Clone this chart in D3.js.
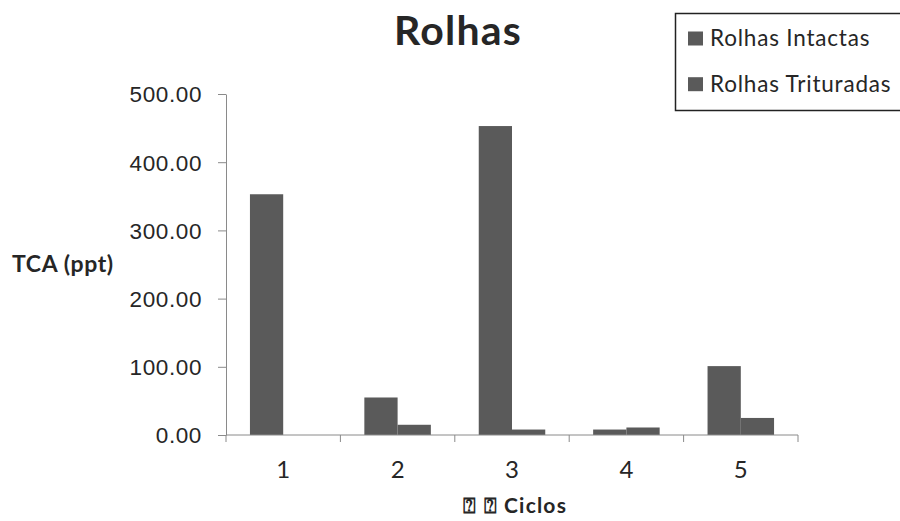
<!DOCTYPE html>
<html>
<head>
<meta charset="utf-8">
<script src="https://cdn.jsdelivr.net/npm/d3@7"></script>
<style>
  html, body { margin: 0; padding: 0; background: #fff; }
  svg { display: block; font-family: Lato, "Open Sans", sans-serif; }
</style>
</head>
<body>
<svg id="chart" width="900" height="521"></svg>
<script>
// TCA measured per cycle for intact and crushed corks
const ciclos = ["1", "2", "3", "4", "5"];
const seriesNames = ["Rolhas Intactas", "Rolhas Trituradas"];
const intactas = [353, 55, 453, 8, 101];
const trituradas = [0, 15, 8, 11, 25];
const yTicks = [0, 100, 200, 300, 400, 500];

const svg = d3.select("#chart");
const margin = { left: 226, right: 102, top: 94, bottom: 86 };
const W = 900, H = 521;

const x = d3.scaleBand().domain(ciclos).range([margin.left, W - margin.right]).paddingInner(0).paddingOuter(0);
const y = d3.scaleLinear().domain([0, 500]).range([H - margin.bottom, margin.top]);
const xs = d3.scaleBand().domain(seriesNames).range([0, x.bandwidth()]).paddingInner(0).paddingOuter(0.72);

const rows = ciclos.map((c, i) => ({ c, vals: [intactas[i], trituradas[i]] }));
const barColor = "#5a5a5a";
const textColor = "#262626";
const axisColor = "#8a8a8a";

// bars
const g = svg.append("g");
rows.forEach(r => {
  r.vals.forEach((v, j) => {
    g.append("rect")
      .attr("x", x(r.c) + xs(seriesNames[j]))
      .attr("y", y(v))
      .attr("width", xs.bandwidth())
      .attr("height", y(0) - y(v))
      .attr("fill", barColor);
  });
});

// y axis
const yAxis = d3.axisLeft(y).tickValues(yTicks).tickFormat(d3.format(".2f")).tickSizeInner(8).tickSizeOuter(0);
const ya = svg.append("g").attr("transform", `translate(${margin.left},0)`).call(yAxis);
ya.select(".domain").attr("stroke", axisColor);
ya.selectAll(".tick line").attr("stroke", axisColor);
ya.selectAll(".tick text").attr("x", -24).attr("fill", textColor)
  .attr("font-size", 22.5).attr("letter-spacing", 0.6).attr("dy", "0.35em");

// x axis with ticks at the category boundaries
const xa = svg.append("g").attr("transform", `translate(0,${y(0)})`);
xa.append("line").attr("x1", margin.left).attr("x2", W - margin.right)
  .attr("stroke", axisColor);
const bounds = ciclos.map(c => x(c)).concat([x(ciclos[ciclos.length - 1]) + x.bandwidth()]);
xa.selectAll("line.tk").data(bounds).join("line").attr("class", "tk")
  .attr("x1", d => d).attr("x2", d => d).attr("y1", 0).attr("y2", 7).attr("stroke", axisColor);
xa.selectAll("text").data(ciclos).join("text")
  .attr("x", d => x(d) + x.bandwidth() / 2)
  .attr("y", 43)
  .attr("text-anchor", "middle")
  .attr("fill", textColor)
  .attr("font-size", 24)
  .text(d => d);

// titles
svg.append("text").attr("x", 458).attr("y", 45).attr("text-anchor", "middle")
  .attr("font-weight", "bold").attr("font-size", 41).attr("letter-spacing", 1.2)
  .attr("fill", textColor).text("Rolhas");
svg.append("text").attr("x", 12).attr("y", 272)
  .attr("font-weight", "bold").attr("font-size", 23).attr("letter-spacing", 0.6)
  .attr("fill", textColor).text("TCA (ppt)");
svg.append("text").attr("x", 463).attr("y", 513)
  .attr("font-weight", "bold").attr("font-size", 21).attr("letter-spacing", 1.2)
  .attr("fill", textColor)
  .text("\u2370 \u2370 Ciclos");

// legend
const lg = svg.append("g");
lg.append("rect").attr("x", 675.5).attr("y", 13.5).attr("width", 240).attr("height", 97)
  .attr("fill", "#fff").attr("stroke", "#222").attr("stroke-width", 1.5);
seriesNames.forEach((n, i) => {
  const base = 46 + i * 45.7;
  lg.append("rect").attr("x", 688).attr("y", base - 14.5).attr("width", 15).attr("height", 14).attr("fill", barColor);
  lg.append("text").attr("x", 710).attr("y", base)
    .attr("font-size", 22.5).attr("letter-spacing", 0.8).attr("fill", textColor).text(n);
});
</script>
</body>
</html>
